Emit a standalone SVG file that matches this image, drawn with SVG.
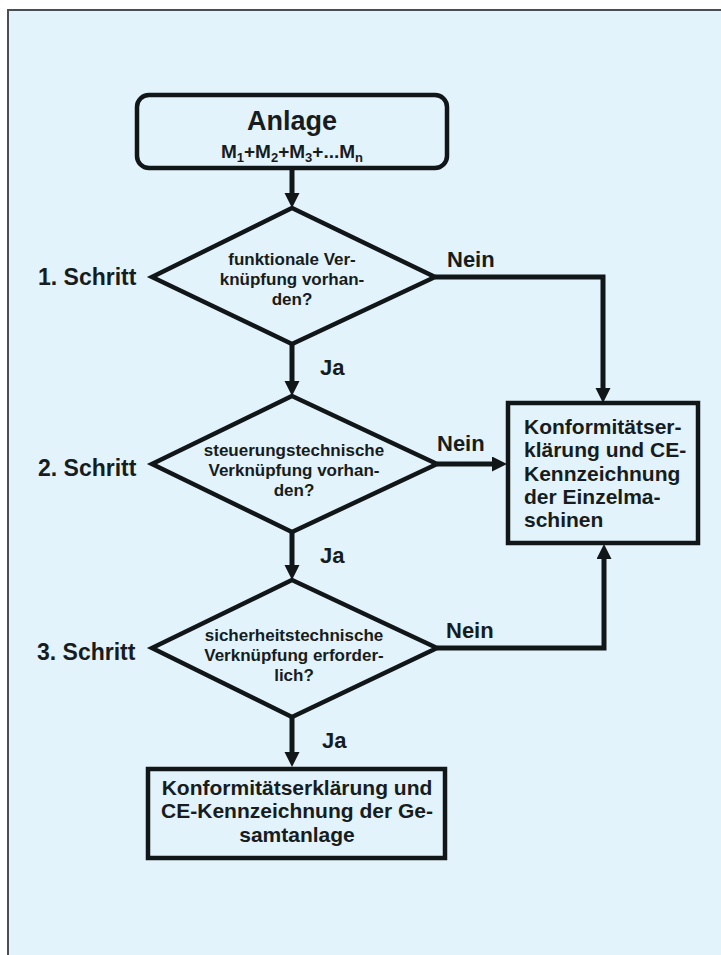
<svg xmlns="http://www.w3.org/2000/svg" width="721" height="955" viewBox="0 0 721 955">
  <style>
    text { font-family: "Liberation Sans", Arial, sans-serif; font-weight: bold; fill: #161c20; }
    .shape { fill: none; stroke: #111619; stroke-width: 4.5; stroke-linejoin: miter; }
    .conn { fill: none; stroke: #111619; stroke-width: 5; stroke-linejoin: miter; }
    .step { font-size: 23px; }
    .lbl { font-size: 22px; }
    .dtxt { font-size: 17px; text-anchor: middle; }
    .btxt { font-size: 21px; }
  </style>
  <defs>
    <marker id="arrow" markerUnits="userSpaceOnUse" markerWidth="16" markerHeight="16" refX="7" refY="7.5" orient="auto">
      <path d="M0,0 L15,7.5 L0,15 z" fill="#111619"/>
    </marker>
  </defs>

  <rect x="0" y="0" width="721" height="955" fill="#ffffff"/>
  <rect x="8" y="10" width="715" height="947" fill="#e3f3fb"/>
  <path d="M8,955 L8,10 L721,10" fill="none" stroke="#4a4f52" stroke-width="2"/>

  <g id="start">
    <rect class="shape" x="137" y="95" width="310" height="73" rx="12"/>
    <text x="292" y="130" font-size="27" text-anchor="middle">Anlage</text>
    <text x="292" y="158" font-size="19" text-anchor="middle">M<tspan font-size="13" dy="4">1</tspan><tspan dy="-4">+M</tspan><tspan font-size="13" dy="4">2</tspan><tspan dy="-4">+M</tspan><tspan font-size="13" dy="4">3</tspan><tspan dy="-4">+...M</tspan><tspan font-size="13" dy="4">n</tspan></text>
  </g>

  <g id="step1">
    <polygon class="shape" points="292,208 435,277 292,344 152,277"/>
    <text class="dtxt" x="292" y="265">funktionale Ver-</text>
    <text class="dtxt" x="292" y="285">knüpfung vorhan-</text>
    <text class="dtxt" x="292" y="305">den?</text>
    <text class="step" x="38" y="285">1. Schritt</text>
  </g>

  <g id="step2">
    <polygon class="shape" points="292,396 437,464 292,532 152,464"/>
    <text class="dtxt" x="294" y="456">steuerungstechnische</text>
    <text class="dtxt" x="294" y="476">Verknüpfung vorhan-</text>
    <text class="dtxt" x="294" y="496">den?</text>
    <text class="step" x="38" y="476">2. Schritt</text>
  </g>

  <g id="step3">
    <polygon class="shape" points="292,580 437,648 292,717 152,648"/>
    <text class="dtxt" x="294" y="641">sicherheitstechnische</text>
    <text class="dtxt" x="294" y="661">Verknüpfung erforder-</text>
    <text class="dtxt" x="294" y="681">lich?</text>
    <text class="step" x="37" y="660">3. Schritt</text>
  </g>

  <g id="einzel">
    <rect class="shape" x="508" y="403" width="190" height="140"/>
    <text class="btxt" x="524" y="434">Konformitätser-</text>
    <text class="btxt" x="524" y="457">klärung und CE-</text>
    <text class="btxt" x="524" y="481">Kennzeichnung</text>
    <text class="btxt" x="524" y="504">der Einzelma-</text>
    <text class="btxt" x="524" y="527">schinen</text>
  </g>

  <g id="gesamt">
    <rect class="shape" x="148" y="769" width="297" height="89"/>
    <text class="btxt" x="297" y="795" text-anchor="middle">Konformitätserklärung und</text>
    <text class="btxt" x="297" y="818" text-anchor="middle">CE-Kennzeichnung der Ge-</text>
    <text class="btxt" x="297" y="842" text-anchor="middle">samtanlage</text>
  </g>

  <g id="connectors">
    <path class="conn" d="M292,168 L292,200" marker-end="url(#arrow)"/>
    <path class="conn" d="M292,344 L292,388" marker-end="url(#arrow)"/>
    <path class="conn" d="M292,532 L292,572" marker-end="url(#arrow)"/>
    <path class="conn" d="M292,717 L292,759" marker-end="url(#arrow)"/>
    <path class="conn" d="M435,277 L603,277 L603,395" marker-end="url(#arrow)"/>
    <path class="conn" d="M437,464 L499,464" marker-end="url(#arrow)"/>
    <path class="conn" d="M437,648 L604,648 L604,552" marker-end="url(#arrow)"/>
    <text class="lbl" x="447" y="267">Nein</text>
    <text class="lbl" x="437" y="451">Nein</text>
    <text class="lbl" x="446" y="638">Nein</text>
    <text class="lbl" x="320" y="375">Ja</text>
    <text class="lbl" x="320" y="563">Ja</text>
    <text class="lbl" x="322" y="748">Ja</text>
  </g>
</svg>
